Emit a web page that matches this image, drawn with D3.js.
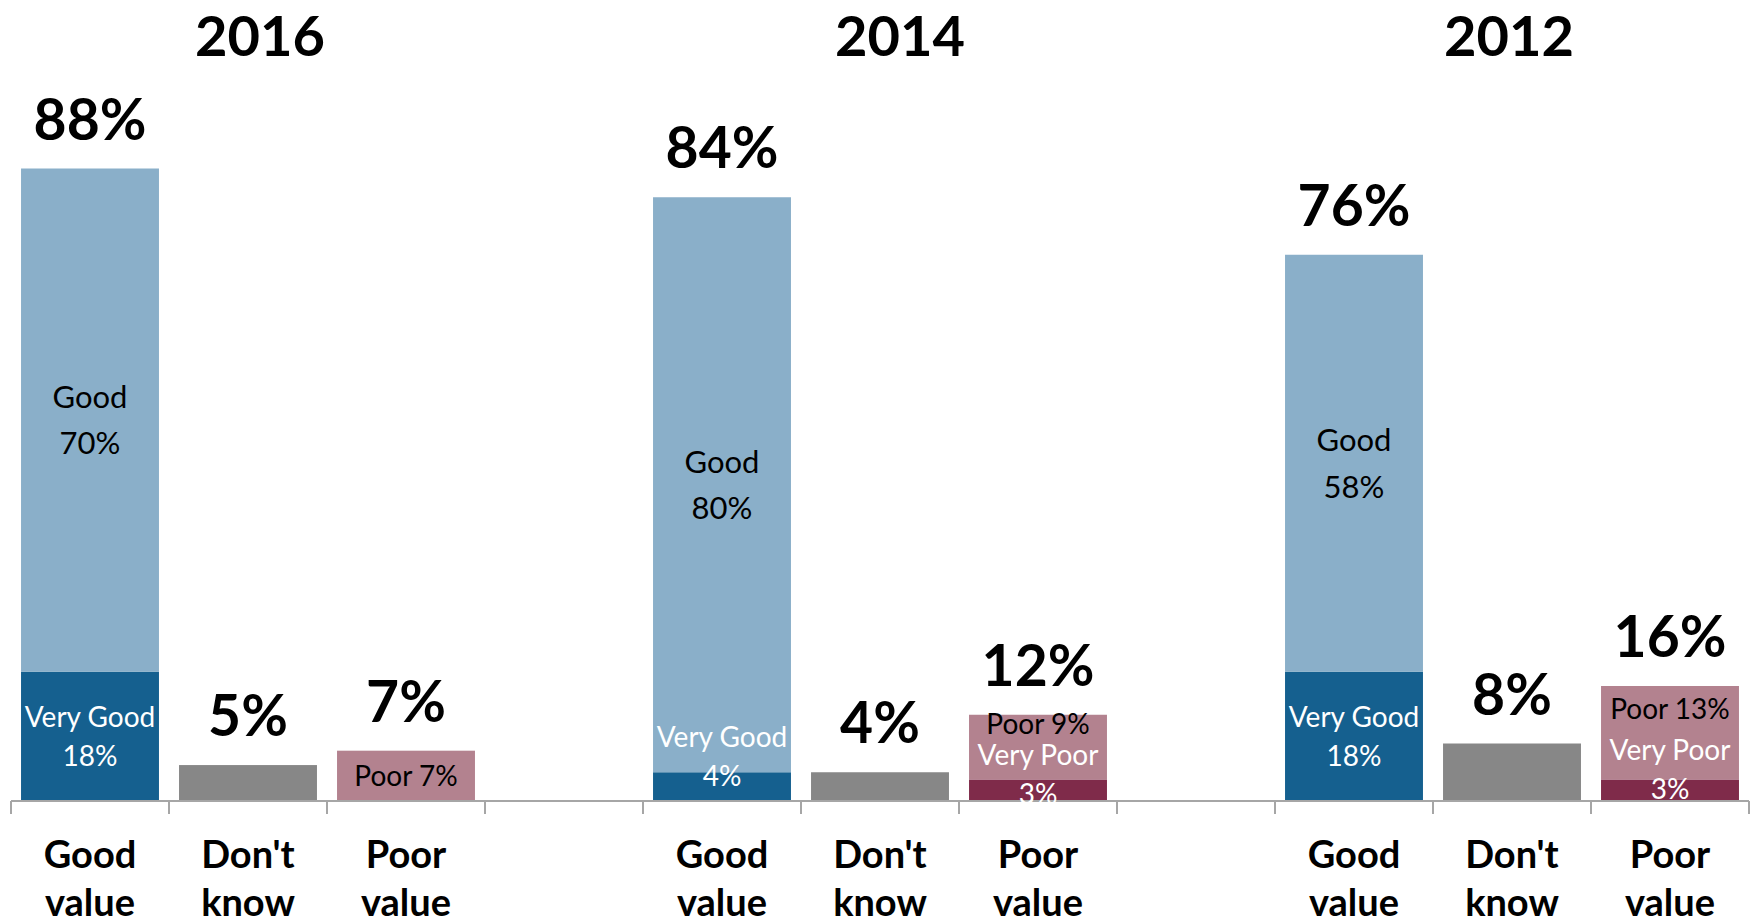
<!DOCTYPE html>
<html>
<head>
<meta charset="utf-8">
<script src="https://cdn.jsdelivr.net/npm/d3@7"></script>
<style>
  html, body { margin: 0; padding: 0; background: #ffffff; }
  svg { display: block; }
  text { font-family: Lato, "Open Sans", "Noto Sans", sans-serif; }
</style>
</head>
<body>
<svg id="chart" width="1750" height="924"></svg>
<script>
// ---- data ----
const years = ["2016", "2014", "2012"];
const categories = ["Good value", "Don't know", "Poor value"];
const categoryLines = [["Good", "value"], ["Don't", "know"], ["Poor", "value"]];
const veryGood = [18, 4, 18];
const good = [70, 80, 58];
const dontKnow = [5, 4, 8];
const veryPoor = [0, 3, 3];
const poor = [7, 9, 13];
const goodTotal = [88, 84, 76];
const poorTotal = [7, 12, 16];

// ---- layout / style ----
const W = 1750, H = 924;
const axisY = 801;
const colors = {
  "Very Good": "#15608f", "Good": "#8aafc9", "Don't know": "#878787",
  "Very Poor": "#7f2b4a", "Poor": "#b3828f"
};
const textColors = { "Very Good": "#ffffff", "Good": "#000000", "Very Poor": "#ffffff", "Poor": "#000000" };
const labelNudge = {
  "2014|Very Good": -30, "2014|Poor": -23, "2014|Very Poor": -16,
  "2012|Poor": -24, "2012|Very Poor": -21
};
const titleDx = [12, 20, -3];
const CAP = 0.717;

const svg = d3.select("#chart");

// slots: 3 categories per year, a spacer slot between year groups
const slotKeys = [];
years.forEach((yr, i) => {
  categories.forEach(c => slotKeys.push(yr + "|" + c));
  if (i < years.length - 1) slotKeys.push("gap" + i);
});

const x = d3.scaleBand().domain(slotKeys).range([11, 1749]).paddingInner(0.127).paddingOuter(0.0635);
const y = d3.scaleLinear().domain([0, 100]).range([axisY, axisY - 718.75]);
const bw = x.bandwidth();
const halfGap = (x.step() - bw) / 2;

// build bar segments
const segments = [];
const totals = [];
years.forEach((yr, i) => {
  const stacks = [
    { cat: categories[0], parts: [
      { key: "Very Good", v: veryGood[i], lines: ["Very Good", veryGood[i] + "%"] },
      { key: "Good", v: good[i], lines: ["Good", good[i] + "%"] }
    ], total: goodTotal[i] },
    { cat: categories[1], parts: [
      { key: "Don't know", v: dontKnow[i], lines: null }
    ], total: dontKnow[i] },
    { cat: categories[2], parts: [
      { key: "Very Poor", v: veryPoor[i], lines: ["Very Poor", veryPoor[i] + "%"] },
      { key: "Poor", v: poor[i], lines: ["Poor " + poor[i] + "%"] }
    ], total: poorTotal[i] }
  ];
  stacks.forEach(s => {
    let acc = 0;
    s.parts.forEach(p => {
      if (p.v > 0) segments.push({ year: yr, cat: s.cat, key: p.key, y0: acc, y1: acc + p.v, lines: p.lines });
      acc += p.v;
    });
    totals.push({ year: yr, cat: s.cat, total: s.total });
  });
});

// bars
svg.append("g").selectAll("rect").data(segments).join("rect")
  .attr("x", d => x(d.year + "|" + d.cat))
  .attr("width", bw)
  .attr("y", d => y(d.y1))
  .attr("height", d => y(d.y0) - y(d.y1))
  .attr("fill", d => colors[d.key]);

// axis line and ticks
const bounds = slotKeys.map(k => x(k) - halfGap);
bounds.push(x(slotKeys[slotKeys.length - 1]) + bw + halfGap);
const axisG = svg.append("g");
axisG.append("line")
  .attr("x1", bounds[0]).attr("x2", bounds[bounds.length - 1])
  .attr("y1", axisY).attr("y2", axisY)
  .attr("stroke", "#a6a6a6").attr("stroke-width", 2);
axisG.selectAll("line.tick").data(bounds).join("line").attr("class", "tick")
  .attr("x1", d => d).attr("x2", d => d)
  .attr("y1", axisY).attr("y2", axisY + 13)
  .attr("stroke", "#a6a6a6").attr("stroke-width", 2);

// segment labels
segments.filter(d => d.lines).forEach(d => {
  const isGood = d.key === "Good";
  const fs = isGood ? 31 : 28;
  const lh = isGood ? 46.5 : 38.5;
  const cap = fs * CAP;
  const n = d.lines.length;
  const blockH = cap + (n - 1) * lh;
  const cy = (y(d.y0) + y(d.y1)) / 2 + (labelNudge[d.year + "|" + d.key] || 0);
  const firstBase = cy - blockH / 2 + cap;
  const cx = x(d.year + "|" + d.cat) + bw / 2;
  svg.append("text")
    .attr("text-anchor", "middle")
    .attr("font-size", fs)
    .attr("fill", textColors[d.key])
    .selectAll("tspan").data(d.lines).join("tspan")
    .attr("x", cx)
    .attr("y", (t, j) => firstBase + j * lh)
    .text(t => t);
});

// total labels
svg.append("g").selectAll("text").data(totals).join("text")
  .attr("x", d => x(d.year + "|" + d.cat) + bw / 2)
  .attr("y", d => y(d.total) - 29)
  .attr("text-anchor", "middle")
  .attr("font-size", 57)
  .attr("font-weight", 700)
  .attr("fill", "#000")
  .text(d => d.total + "%");

// category labels
years.forEach(yr => {
  categories.forEach((c, j) => {
    svg.append("text")
      .attr("text-anchor", "middle")
      .attr("font-size", 38)
      .attr("font-weight", 700)
      .attr("fill", "#000")
      .selectAll("tspan").data(categoryLines[j]).join("tspan")
      .attr("x", x(yr + "|" + c) + bw / 2)
      .attr("y", (t, k) => 868 + k * 48)
      .text(t => t);
  });
});

// year titles
years.forEach((yr, i) => {
  const left = x(yr + "|" + categories[0]);
  const right = x(yr + "|" + categories[2]) + bw;
  svg.append("text")
    .attr("x", (left + right) / 2 + titleDx[i])
    .attr("y", 56)
    .attr("text-anchor", "middle")
    .attr("font-size", 56)
    .attr("font-weight", 700)
    .attr("fill", "#000")
    .text(yr);
});
</script>
</body>
</html>
